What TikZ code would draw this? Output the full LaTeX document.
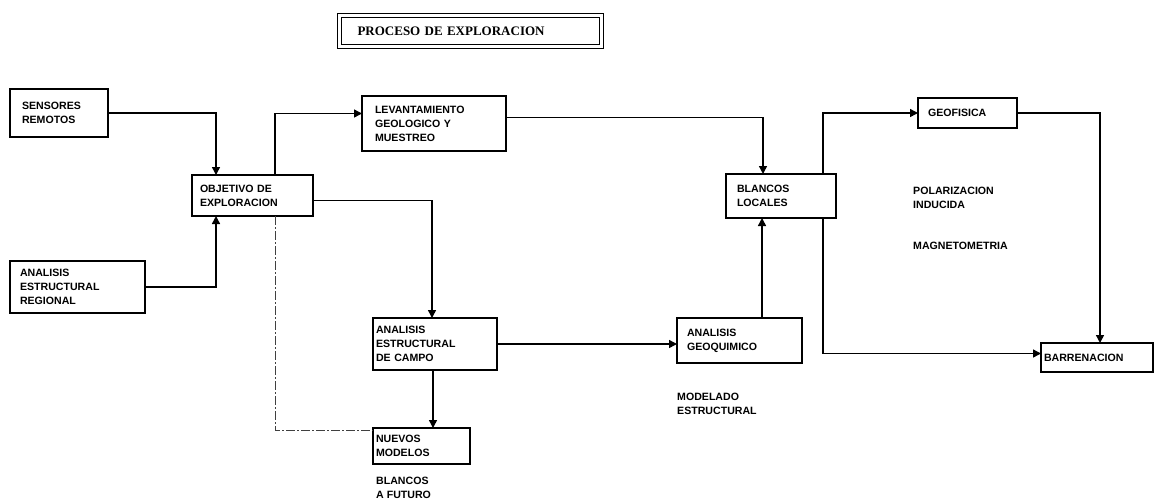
\documentclass[tikz,border=0pt]{standalone}
\usepackage{fontspec}
\setmainfont{Liberation Sans}
\newfontfamily\titlefont{Liberation Serif}
\usetikzlibrary{arrows.meta,calc}
\begin{document}
\begin{tikzpicture}[x=1pt,y=-1pt,
  box/.style={draw, line width=2.2pt, anchor=north west, align=left, inner ysep=0pt, outer sep=0pt,
    font=\fontsize{10.6}{14}\selectfont\bfseries},
  lbl/.style={anchor=north west, align=left, inner sep=0pt, font=\fontsize{10.6}{14}\selectfont\bfseries},
  conn/.style={line width=1.4pt},
  arr/.style={conn, -{Triangle[length=8pt,width=8pt]}},
  dashline/.style={line width=1pt, black!75, dash pattern=on 9pt off 2pt on 2pt off 2pt}
]
\useasboundingbox (0,0) rectangle (1155,499);

% title
\node[draw, double, double distance=3pt, line width=1pt, anchor=north west, outer sep=0pt, inner ysep=0pt,
  minimum width=262pt, minimum height=31pt, inner xsep=18pt, text width=226pt, align=left,
  font=\titlefont\bfseries\fontsize{13}{15}\selectfont] (title) at (339.5,15.5) {PROCESO DE EXPLORACION};

% boxes
\node[box, minimum width=98pt, minimum height=48pt, inner xsep=12pt, text width=74pt] (sens) at (10,89) {SENSORES\\REMOTOS};
\node[box, minimum width=121pt, minimum height=41pt, inner xsep=8pt, text width=105pt] (obj) at (192,175) {OBJETIVO DE\\EXPLORACION};
\node[box, minimum width=135pt, minimum height=52pt, inner xsep=10pt, text width=115pt] (reg) at (10,261) {ANALISIS\\ESTRUCTURAL\\REGIONAL};
\node[box, minimum width=144pt, minimum height=55pt, inner xsep=13pt, text width=118pt] (lev) at (362,96) {LEVANTAMIENTO\\GEOLOGICO Y\\MUESTREO};
\node[box, minimum width=124pt, minimum height=52pt, inner xsep=3pt, text width=118pt] (campo) at (373,318) {ANALISIS\\ESTRUCTURAL\\DE CAMPO};
\node[box, minimum width=97pt, minimum height=36pt, inner xsep=3pt, text width=91pt] (nuevos) at (373,428) {NUEVOS\\MODELOS};
\node[box, minimum width=125pt, minimum height=45pt, inner xsep=10pt, text width=105pt] (geoq) at (677,318) {ANALISIS\\GEOQUIMICO};
\node[box, minimum width=110pt, minimum height=44pt, inner xsep=11pt, text width=88pt] (blancos) at (726,174) {BLANCOS\\LOCALES};
\node[box, minimum width=99pt, minimum height=30pt, inner xsep=10pt, text width=79pt] (geof) at (918,98) {GEOFISICA};
\node[box, minimum width=112pt, minimum height=29pt, inner xsep=3pt, text width=106pt] (barr) at (1041,343) {BARRENACION};

% free labels
\node[lbl] (modelado) at (677,393) {MODELADO\\ESTRUCTURAL};
\node[lbl] (futuro) at (376,477) {BLANCOS\\A FUTURO};
\node[lbl] (polar) at (913,187) {POLARIZACION\\INDUCIDA};
\node[lbl] (magneto) at (913,242) {MAGNETOMETRIA};

% connectors
\draw[arr] (sens.east) -| ([xshift=24pt]obj.north west);
\draw[arr] (reg.east) -| ([xshift=24pt]obj.south west);
\draw[arr] ([xshift=83pt]obj.north west) |- ([yshift=10pt]lev.west);
\draw[arr] ([yshift=6pt]lev.east) -| ([xshift=37pt]blancos.north west);
\draw[arr] ([yshift=-5pt]obj.east) -| ([xshift=-3pt]campo.north);
\draw[arr] (campo.east) -- (campo.east -| geoq.west);
\draw[arr] ([xshift=85pt]geoq.north west) -- ([xshift=85pt]geoq.north west |- blancos.south);
\draw[arr] ([xshift=-2pt]campo.south) -- ([xshift=-2pt]campo.south |- nuevos.north);
\draw[dashline] ([xshift=83pt]obj.south west) |- ([yshift=16pt]nuevos.west);
\draw[arr] ([xshift=-13pt]blancos.north east) |- (geof.west);
\draw[arr] (geof.east) -| ([xshift=3pt]barr.north);
\draw[arr] ([xshift=-13pt]blancos.south east) |- ([yshift=4pt]barr.west);
\end{tikzpicture}
\end{document}
